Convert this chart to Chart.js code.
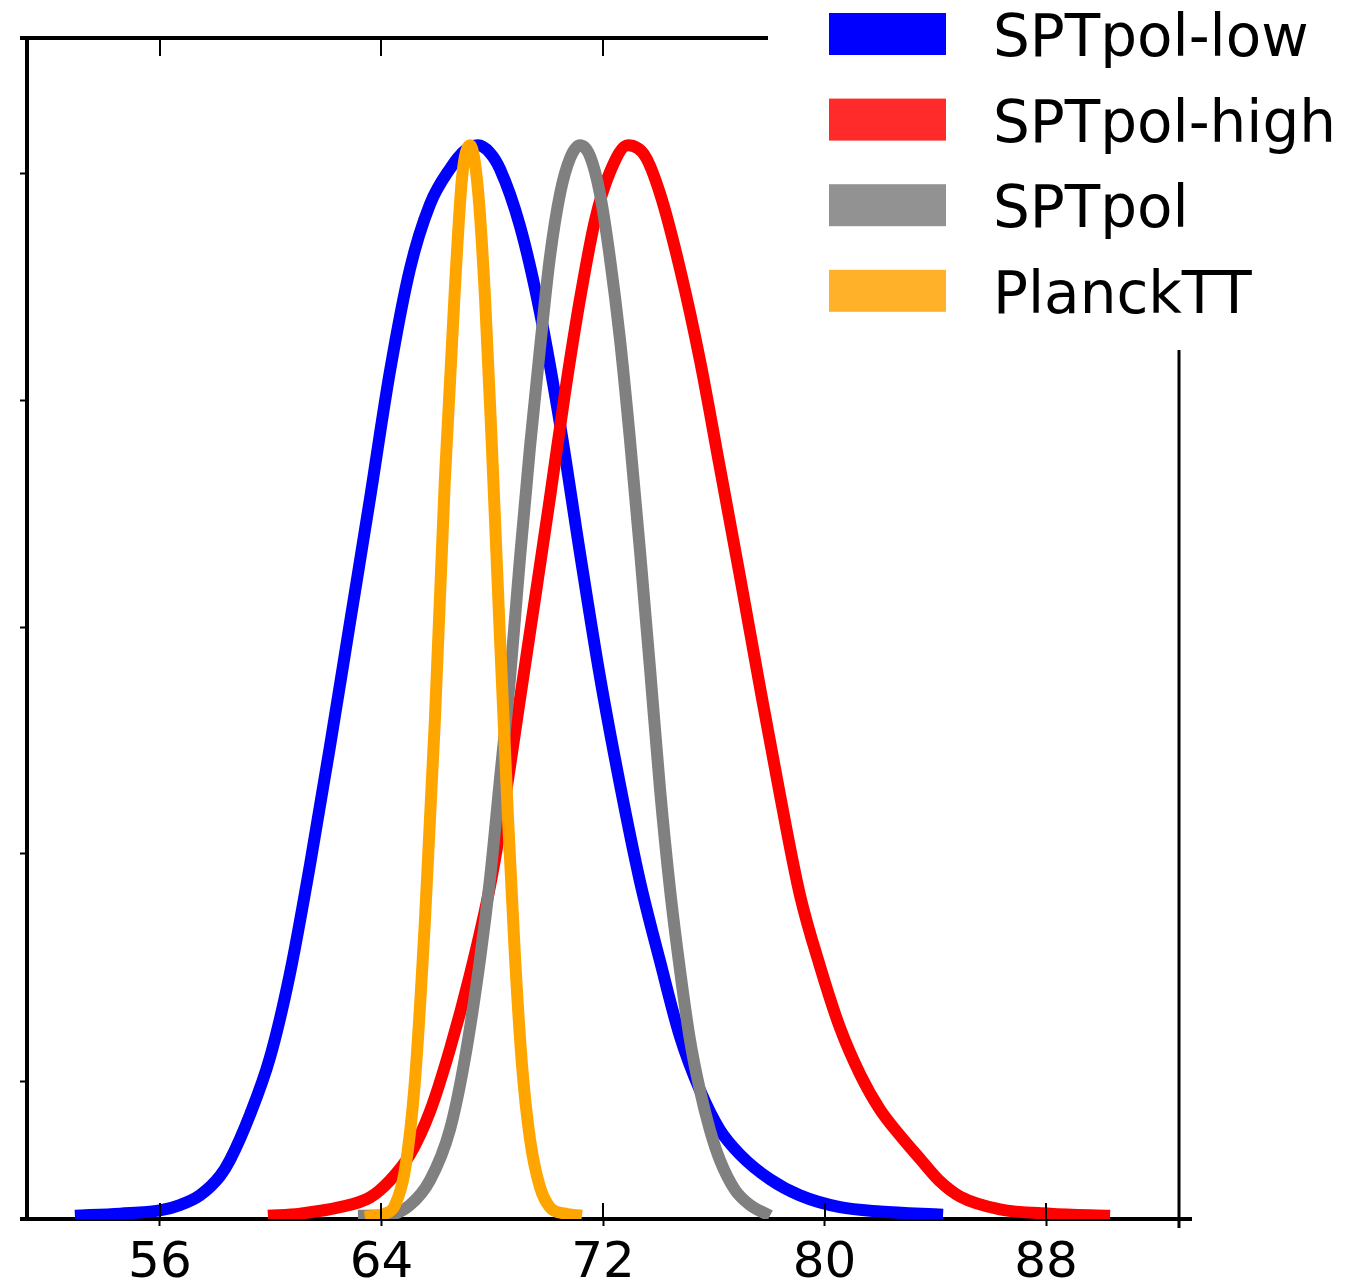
<!DOCTYPE html>
<html>
<head>
<meta charset="utf-8">
<script src="https://cdn.jsdelivr.net/npm/chart.js@4/dist/chart.umd.min.js"></script>
<style>
  body { margin: 0; background: #fff; }
  #grafico { display: block; }
</style>
</head>
<body>
<canvas id="grafico" width="1367" height="1283"></canvas>
<script>
// nomi delle serie
var nomi = ['SPTpol-low', 'SPTpol-high', 'SPTpol', 'PlanckTT'];

// SPTpol-low
var lowX = [52.93, 54.56, 56.00, 56.72, 57.44, 58.17, 58.53, 59.25, 59.97, 60.69, 61.42, 62.14, 62.86, 63.58, 64.31, 65.03, 65.75, 66.47, 67.01, 67.48, 67.92, 68.28, 69.00, 69.72, 70.45, 71.17, 71.89, 72.61, 73.33, 74.06, 74.78, 75.50, 76.22, 76.95, 78.03, 79.11, 80.56, 82.00, 84.28];
var lowY = [0.003, 0.005, 0.008, 0.013, 0.022, 0.040, 0.055, 0.097, 0.150, 0.228, 0.330, 0.440, 0.555, 0.670, 0.790, 0.885, 0.945, 0.978, 0.995, 1.000, 0.993, 0.978, 0.925, 0.845, 0.740, 0.620, 0.505, 0.405, 0.315, 0.240, 0.170, 0.120, 0.083, 0.060, 0.037, 0.022, 0.011, 0.007, 0.004];

// SPTpol-high
var highX = [59.90, 61.06, 62.50, 63.58, 64.31, 65.03, 65.75, 66.47, 67.20, 67.92, 68.46, 69.00, 69.54, 70.08, 70.63, 71.17, 71.71, 72.25, 72.90, 73.52, 74.06, 74.78, 75.50, 76.22, 76.95, 77.67, 78.39, 79.11, 79.84, 80.56, 81.28, 82.00, 82.72, 83.45, 84.17, 84.89, 86.34, 88.14, 90.31];
var highY = [0.003, 0.005, 0.011, 0.020, 0.036, 0.060, 0.100, 0.158, 0.228, 0.310, 0.391, 0.484, 0.577, 0.671, 0.770, 0.857, 0.930, 0.975, 1.000, 0.990, 0.955, 0.885, 0.800, 0.700, 0.598, 0.495, 0.395, 0.302, 0.235, 0.178, 0.135, 0.102, 0.078, 0.056, 0.035, 0.021, 0.009, 0.005, 0.003];

// SPTpol
var sptX = [63.15, 64.31, 65.03, 65.75, 66.47, 67.01, 67.56, 67.92, 68.28, 68.64, 69.00, 69.36, 69.72, 70.08, 70.45, 70.81, 71.17, 71.53, 71.89, 72.25, 72.61, 72.97, 73.33, 73.70, 74.06, 74.42, 74.78, 75.14, 75.50, 75.86, 76.22, 76.77, 77.31, 78.03];
var sptY = [0.003, 0.004, 0.013, 0.036, 0.083, 0.149, 0.242, 0.317, 0.410, 0.503, 0.615, 0.718, 0.810, 0.895, 0.955, 0.988, 1.000, 0.990, 0.955, 0.895, 0.820, 0.727, 0.624, 0.512, 0.400, 0.307, 0.232, 0.167, 0.120, 0.083, 0.055, 0.027, 0.013, 0.003];

// PlanckTT
var planckX = [63.40, 64.13, 64.49, 64.85, 65.21, 65.57, 65.93, 66.29, 66.65, 66.91, 67.20, 67.48, 67.74, 67.99, 68.28, 68.57, 68.82, 69.07, 69.36, 69.72, 70.08, 70.63, 71.24];
var planckY = [0.002, 0.005, 0.013, 0.046, 0.129, 0.278, 0.465, 0.689, 0.866, 0.970, 1.000, 0.960, 0.858, 0.718, 0.541, 0.373, 0.245, 0.145, 0.075, 0.030, 0.011, 0.005, 0.003];

// tacche degli assi
var xTicks = [56, 64, 72, 80, 88];
var yTicks = [0, 0.128, 0.340, 0.551, 0.762, 0.974];

var coloriLinee = ['#0000ff', '#ff0000', '#808080', '#ffa500'];
var coloriLegenda = ['#0000ff', '#ff2a2a', '#929292', '#ffb12a'];

function punti(xs, ys) {
  var out = [];
  for (var i = 0; i < xs.length; i++) {
    out.push({x: xs[i], y: ys[i]});
  }
  return out;
}

function serie(i, xs, ys) {
  return {
    label: nomi[i],
    data: punti(xs, ys),
    borderColor: coloriLinee[i],
    backgroundColor: coloriLegenda[i],
    borderWidth: 12,
    borderJoinStyle: 'round',
    pointRadius: 0,
    fill: false,
    cubicInterpolationMode: 'monotone',
    order: 4 - i
  };
}

// cornice, tacche interne e legenda
var decorazioni = {
  id: 'decorazioni',
  afterDraw: function(chart) {
    var ctx = chart.ctx;
    var a = chart.chartArea;
    var sx = chart.scales.x;
    function linea(x1, y1, x2, y2) {
      ctx.beginPath();
      ctx.moveTo(x1, y1);
      ctx.lineTo(x2, y2);
      ctx.stroke();
    }
    ctx.save();
    ctx.strokeStyle = '#000';
    ctx.lineCap = 'butt';
    ctx.lineWidth = 4;
    linea(20, a.top, 768, a.top);
    linea(20, a.bottom, a.left, a.bottom);
    linea(a.right, a.bottom, 1192, a.bottom);
    ctx.lineWidth = 3;
    linea(a.right, 350, a.right, a.bottom + 9);
    ctx.lineWidth = 2;
    xTicks.forEach(function(v) {
      var px = Math.round(sx.getPixelForValue(v));
      linea(px, a.bottom, px, a.bottom - 16);
      if (px < 768) linea(px, a.top, px, a.top + 18);
    });

    // legenda
    ctx.fillStyle = '#fff';
    ctx.fillRect(769, 0, 1367 - 769, 348);
    ctx.font = '58px "DejaVu Sans"';
    ctx.textBaseline = 'alphabetic';
    ctx.textAlign = 'left';
    chart.data.datasets.forEach(function(ds, i) {
      var cy = 34 + i * 85.6;
      ctx.fillStyle = ds.backgroundColor;
      ctx.fillRect(829, cy - 21, 117, 42);
      ctx.fillStyle = '#000';
      ctx.fillText(ds.label, 993, cy + 22);
    });
    ctx.restore();
  }
};

var grafico = new Chart(document.getElementById('grafico'), {
  type: 'line',
  data: {
    datasets: [
      serie(0, lowX, lowY),
      serie(1, highX, highY),
      serie(2, sptX, sptY),
      serie(3, planckX, planckY)
    ]
  },
  options: {
    responsive: false,
    animation: false,
    layout: { padding: { top: 38, right: 188, left: 0, bottom: 0 } },
    plugins: {
      legend: { display: false },
      tooltip: { enabled: false }
    },
    scales: {
      x: {
        type: 'linear',
        position: 'bottom',
        min: 51.2,
        max: 92.8,
        z: 1,
        afterBuildTicks: function(scale) {
          scale.ticks = xTicks.map(function(v) { return {value: v}; });
        },
        afterFit: function(scale) { scale.height = 64; },
        ticks: {
          color: '#000',
          font: { family: 'DejaVu Sans', size: 50 },
          padding: 8,
          maxRotation: 0,
          autoSkip: false,
          callback: function(v) { return v; }
        },
        grid: { drawOnChartArea: false, drawTicks: true, tickLength: 7, tickWidth: 2, tickColor: '#000' },
        border: { display: true, width: 4, color: '#000' }
      },
      y: {
        type: 'linear',
        min: 0,
        max: 1.1,
        z: 1,
        afterBuildTicks: function(scale) {
          scale.ticks = yTicks.map(function(v) { return {value: v}; });
        },
        afterFit: function(scale) { scale.width = 27; },
        ticks: { display: false },
        grid: { drawOnChartArea: false, drawTicks: true, tickLength: 7, tickWidth: 2, tickColor: '#000' },
        border: { display: true, width: 4, color: '#000' }
      }
    }
  },
  plugins: [decorazioni]
});
</script>
</body>
</html>
